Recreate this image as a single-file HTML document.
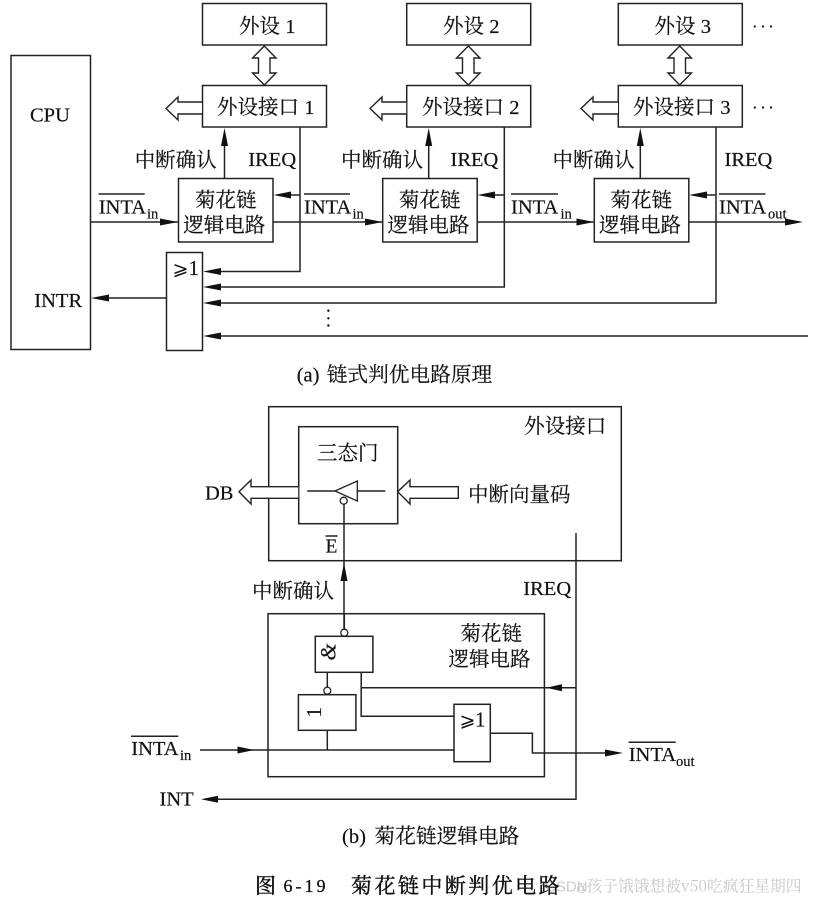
<!DOCTYPE html>
<html><head><meta charset="utf-8"><style>
html,body{margin:0;padding:0;background:#fff}
svg{display:block}
text{fill:#111;stroke:#111;stroke-width:.18;font-family:"Liberation Serif","Noto Serif CJK SC",serif;font-size:20.5px}
.c{font-family:"Noto Serif CJK SC","Liberation Serif",serif;font-size:20.5px}
.s{font-size:14.5px}
.r{fill:#fff;stroke:#222;stroke-width:1.5}
.n{fill:none;stroke:#222;stroke-width:1.5}
.t{fill:#fff;stroke:#222;stroke-width:1.4}
.a{fill:#111;stroke:none}
.o{fill:#fff;stroke:#222;stroke-width:1.3}
</style></head><body>
<svg width="815" height="902" viewBox="0 0 815 902" xmlns="http://www.w3.org/2000/svg">
<!-- (a) lines -->
<path class="n" d="M90.5 222H178M273 222H383M477 222H594M689 222H790"/>
<path class="n" d="M224.500 178V140M428.700 178V140M640.300 178V140"/>
<path class="n" d="M300 127V271.500H215M504.300 127V287H215M716 127V303H215M808 336H215"/>
<path class="n" d="M300 195H285M504.300 195H489M716 195H701"/>
<path class="n" d="M166.500 298H105"/>
<!-- boxes -->
<rect class="r" x="11" y="55.500" width="79.500" height="294"/>
<rect class="r" x="202.500" y="3.500" width="124" height="41.500"/>
<rect class="r" x="202.500" y="85.500" width="124" height="41.500"/>
<rect class="r" x="406.700" y="3.500" width="124" height="41.500"/>
<rect class="r" x="406.700" y="85.500" width="124" height="41.500"/>
<rect class="r" x="618.300" y="3.500" width="124" height="41.500"/>
<rect class="r" x="618.300" y="85.500" width="124" height="41.500"/>
<rect class="n" x="178.500" y="178.500" width="94.500" height="63.500"/>
<rect class="n" x="382.700" y="178.500" width="94.500" height="63.500"/>
<rect class="n" x="594.300" y="178.500" width="94.500" height="63.500"/>
<rect class="r" x="166.500" y="252.500" width="36" height="98"/>
<!-- double arrows -->
<path class="t" d="M264.300 46L276 58H270V73H276L264.300 85L252.500 73H258.500V58H252.500Z"/>
<path class="t" d="M468.300 46L480 58H474V73H480L468.300 85L456.500 73H462.500V58H456.500Z"/>
<path class="t" d="M679.700 46L691.500 58H685.500V73H691.500L679.700 85L668 73H674V58H668Z"/>
<!-- left hollow arrows -->
<path class="t" d="M202 102H178V97L166 108.500L178 120V114H202"/>
<path class="t" d="M406.200 102H382V97L370 108.500L382 120V114H406.200"/>
<path class="t" d="M618 102H593V97L581 108.500L593 120V114H618"/>
<!-- filled arrowheads -->
<g class="a">
<path d="M178 222L160 218.500V225.500Z"/><path d="M382.700 222L365 218.500V225.500Z"/><path d="M594 222L576.500 218.500V225.500Z"/><path d="M803 222L785 218.500V225.500Z"/>
<path d="M224.500 128L221 146H228Z"/><path d="M428.700 128L425.200 146H432.200Z"/><path d="M640.300 128L636.800 146H643.800Z"/>
<path d="M273.500 195L291 191.500V198.500Z"/><path d="M477.500 195L495 191.500V198.500Z"/><path d="M689 195L707 191.500V198.500Z"/>
<path d="M203 271.500L221 268V275Z"/><path d="M203 287L221 283.500V290.500Z"/><path d="M203 303L221 299.500V306.500Z"/><path d="M203 336L221 332.500V339.500Z"/>
<path d="M91 298L109 294.500V301.500Z"/>
</g>
<!-- (a) labels -->
<text class="c" x="239" y="33">外设 <tspan font-family="Liberation Serif">1</tspan></text>
<text class="c" x="443" y="33">外设 <tspan font-family="Liberation Serif">2</tspan></text>
<text class="c" x="654.500" y="33">外设 <tspan font-family="Liberation Serif">3</tspan></text>
<text class="c" x="217" y="114">外设接口 <tspan font-family="Liberation Serif">1</tspan></text>
<text class="c" x="422" y="114">外设接口 <tspan font-family="Liberation Serif">2</tspan></text>
<text class="c" x="633" y="114">外设接口 <tspan font-family="Liberation Serif">3</tspan></text>
<text x="30" y="121.700">CPU</text>
<text x="34.300" y="307">INTR</text>
<text class="c" x="134.700" y="167">中断确认</text>
<text class="c" x="341" y="167">中断确认</text>
<text class="c" x="552.500" y="167">中断确认</text>
<text x="248.300" y="166">IREQ</text>
<text x="450.500" y="166">IREQ</text>
<text x="724.500" y="166">IREQ</text>
<text class="c" x="195" y="207">菊花链</text>
<text class="c" x="183.300" y="232">逻辑电路</text>
<text class="c" x="399" y="207">菊花链</text>
<text class="c" x="387.500" y="232">逻辑电路</text>
<text class="c" x="610.500" y="207">菊花链</text>
<text class="c" x="599" y="232">逻辑电路</text>
<text x="98.700" y="213.300">INTA</text><text class="s" x="147" y="218.300">in</text>
<path class="n" d="M98.500 194H144.700"/>
<text x="304" y="213.300">INTA</text><text class="s" x="352.500" y="218.300">in</text>
<path class="n" d="M304 194H350"/>
<text x="511" y="213.300">INTA</text><text class="s" x="560.500" y="218.300">in</text>
<path class="n" d="M511 194H558"/>
<text x="719" y="213.300">INTA</text><text class="s" x="768" y="218.300">out</text>
<path class="n" d="M719 194H765.500"/>
<text x="172.500" y="275" style="font-family:'DejaVu Sans',sans-serif;font-size:19px;stroke-width:0">⩾</text><text x="188.500" y="275" style="font-size:21px">1</text>
<g class="a"><circle cx="328.400" cy="310.700" r="1.200"/><circle cx="328.400" cy="318.300" r="1.200"/><circle cx="328.400" cy="325.500" r="1.200"/>
<circle cx="754.800" cy="26.500" r="1.100"/><circle cx="763" cy="26.500" r="1.100"/><circle cx="771" cy="26.500" r="1.100"/>
<circle cx="754.800" cy="107.500" r="1.100"/><circle cx="763" cy="107.500" r="1.100"/><circle cx="771" cy="107.500" r="1.100"/></g>
<text x="296.700" y="381.700">(a)</text><text class="c" x="326.700" y="381.700" style="font-size:20.7px">链式判优电路原理</text>
<!-- (b) upper -->
<rect class="r" x="268.700" y="406.700" width="352.600" height="154"/>
<rect class="r" x="298.700" y="426.700" width="99" height="97"/>
<path class="n" d="M307.300 491H335M357.300 491H385.300"/>
<path class="o" d="M335 491L357.300 481V501Z"/>
<path class="n" d="M344 504V580"/>
<circle class="o" cx="343.700" cy="500.700" r="3.500"/>
<path class="a" d="M344 563L340.500 581H347.500Z"/>
<path class="t" d="M298.200 486.700H251V480L239 491.700L251 504V498.300H298.200"/>
<path class="t" d="M458.300 486.700H410V480L397.700 491.700L410 504V498.300H458.300Z"/>
<path class="n" d="M576 533V799.300H215"/>
<path class="n" d="M344 580V629"/>
<text class="c" x="524.300" y="433">外设接口</text>
<text class="c" x="317" y="460">三态门</text>
<text class="c" x="468" y="501.700">中断向量码</text>
<text x="205" y="499.300">DB</text>
<text x="325.500" y="552.700" style="font-size:19.5px">E</text><path class="n" d="M325.500 536H337.500"/>
<text class="c" x="252" y="598">中断确认</text>
<text x="523.300" y="595">IREQ</text>
<!-- (b) lower -->
<rect class="n" x="268" y="613.700" width="276.400" height="163"/>
<path class="n" d="M344.300 613V629"/>
<circle class="o" cx="344.300" cy="632.700" r="3.500"/>
<rect class="r" x="315.300" y="636.300" width="57.600" height="36"/>
<path class="n" d="M327.300 672.300V687"/>
<circle class="o" cx="327.300" cy="690.700" r="3.500"/>
<rect class="r" x="298.400" y="694.700" width="57.500" height="35.600"/>
<path class="n" d="M361.200 672.300V716.300H454M361.200 687.700H576"/>
<path class="a" d="M546 687.700L562 684.200V691.200Z"/>
<rect class="r" x="454" y="704.300" width="36.300" height="57.400"/>
<path class="n" d="M490.300 733.300H532.400V753H610"/>
<path class="a" d="M623 753L605 749.500V756.500Z"/>
<path class="n" d="M200 750H454M327.300 730.300V750"/>
<path class="a" d="M254.300 750L237.500 746.500V753.500Z"/>
<path class="a" d="M201 799.300L218 795.800V802.800Z"/>
<text transform="translate(335.500,660.500) rotate(-90)" style="font-size:22px;font-style:italic">&amp;</text>
<text transform="translate(321,717.500) rotate(-90)" style="font-size:21px">1</text>
<text class="c" x="460.500" y="640.700">菊花链</text>
<text class="c" x="448.500" y="666">逻辑电路</text>
<text x="459.500" y="726.700" style="font-family:'DejaVu Sans',sans-serif;font-size:19px;stroke-width:0">⩾</text><text x="475" y="726.700" style="font-size:21px">1</text>
<text x="131.300" y="755">INTA</text><text class="s" x="180" y="760">in</text>
<path class="n" d="M131 736.300H178.300"/>
<text x="628.700" y="761">INTA</text><text class="s" x="676" y="766">out</text>
<path class="n" d="M628.500 742.300H675.800"/>
<text x="159.500" y="805.700">INT</text>
<text x="342" y="843">(b)</text><text class="c" x="374.500" y="843" style="font-size:20.7px">菊花链逻辑电路</text>
<!-- watermark -->
<text x="545" y="891.500" style="font-family:'Liberation Sans','Noto Sans CJK SC',sans-serif;font-size:15px;fill:#ccc;stroke-width:0">CSDN</text>
<text x="576" y="891.500" style="font-family:'Liberation Sans','Noto Sans CJK SC',sans-serif;font-size:11px;fill:#ccc;stroke-width:0">@</text>
<text x="586.500" y="891.500" textLength="215" lengthAdjust="spacingAndGlyphs" style="font-family:'Noto Serif CJK SC','Liberation Sans',sans-serif;font-size:16px;fill:#c8c8c8;stroke-width:0">孩子饿饿想被v50吃疯狂星期四</text>
<!-- title -->
<text class="c" x="255" y="893" style="font-size:21px;stroke-width:.4">图</text>
<text x="283.500" y="892" textLength="42" style="font-family:'Liberation Serif',serif;font-size:18px;stroke-width:.3">6-19</text>
<text class="c" x="351" y="893" style="font-size:21px;stroke-width:.4;letter-spacing:2.450px">菊花链中断判优电路</text>
</svg>
</body></html>
